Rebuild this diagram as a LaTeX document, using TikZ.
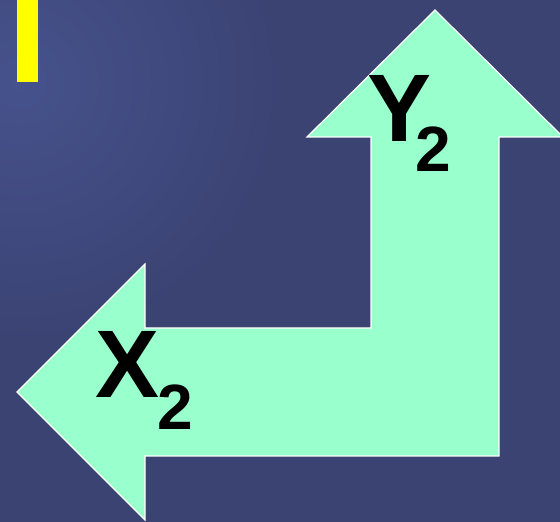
\documentclass[tikz,border=0pt]{standalone}
\usepackage{fontspec}
\setmainfont{Liberation Sans}
\usepackage{xcolor}
\definecolor{slide}{HTML}{3B4373}
\definecolor{slidelight}{HTML}{46528C}
\definecolor{mint}{HTML}{99FFCC}
\definecolor{marker}{HTML}{FFFF00}
\tikzset{
  bigletter/.style={anchor=base west,inner sep=0pt,font=\fontsize{96}{96}\selectfont\bfseries},
  subdigit/.style={anchor=base west,inner sep=0pt,font=\fontsize{64}{64}\selectfont\bfseries}
}

\begin{document}
\begin{tikzpicture}[x=1pt,y=1pt]
  \useasboundingbox (0,0) rectangle (560,522);
  \clip (0,0) rectangle (560,522);
  \fill[slide] (0,0) rectangle (560,522);
  \shade[inner color=slidelight,outer color=slide] (20,440) circle (260);
  \fill[marker] (17,440) rectangle (38,522);
  % bent arrow
  \filldraw[fill=mint,draw=white,line width=1.2pt,line join=miter]
    (435,512) -- (563,385) -- (499,385) -- (499,66) -- (145,66) -- (145,2)
    -- (17,130) -- (145,258) -- (145,194) -- (371,194) -- (371,385)
    -- (307,385) -- cycle;
  \node[bigletter] (ylab) at (367,380) {Y};
  \node[subdigit] (ysub) at (415,350) {2};
  \node[bigletter] (xlab) at (95,124) {X};
  \node[subdigit] (xsub) at (157,92) {2};
\end{tikzpicture}
\end{document}
